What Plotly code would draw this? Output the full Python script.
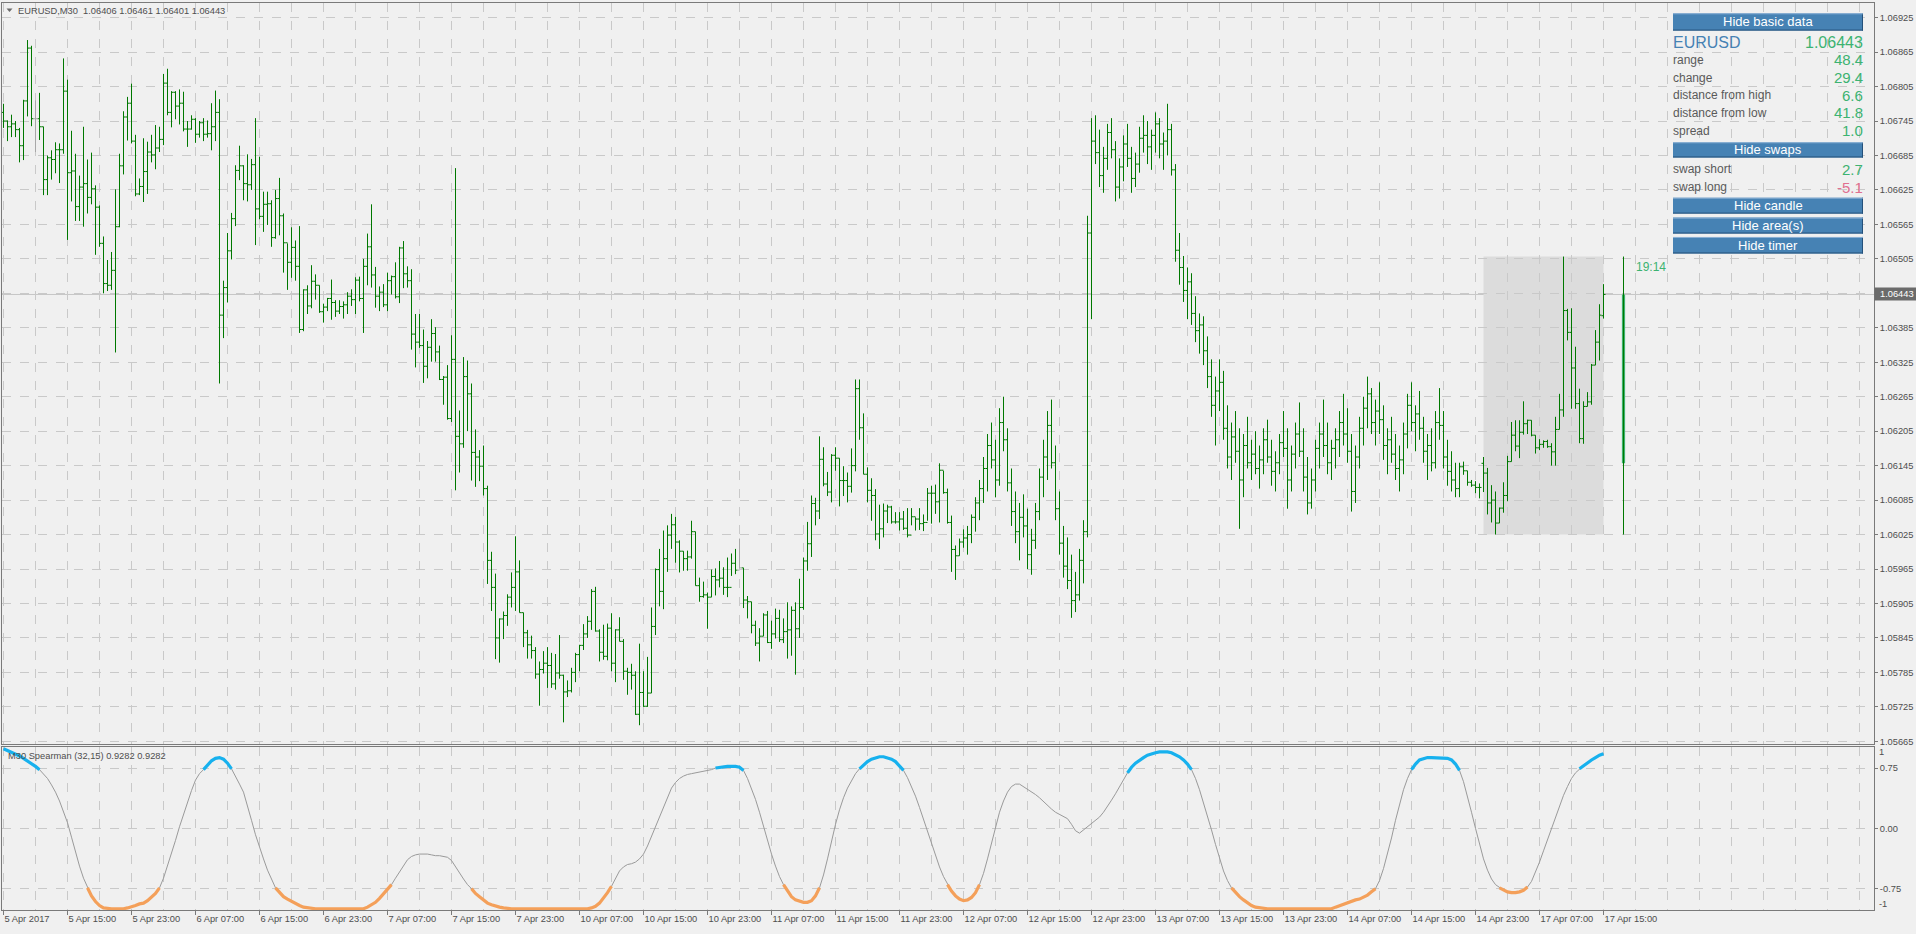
import plotly.graph_objects as go

W, H = 1916, 934
def fx(px):
    return px / W
def fy(py):
    return 1 - py / H

# ---------------- data ----------------
BASE = 1.06      # prices below are stored as pips above this base
PIP = 0.0001

tick_bars = list(range(0, 401, 16))
tick_labels = ["5 Apr 2017", "5 Apr 15:00", "5 Apr 23:00", "6 Apr 07:00", "6 Apr 15:00",
               "6 Apr 23:00", "7 Apr 07:00", "7 Apr 15:00", "7 Apr 23:00", "10 Apr 07:00",
               "10 Apr 15:00", "10 Apr 23:00", "11 Apr 07:00", "11 Apr 15:00", "11 Apr 23:00",
               "12 Apr 07:00", "12 Apr 15:00", "12 Apr 23:00", "13 Apr 07:00", "13 Apr 15:00",
               "13 Apr 23:00", "14 Apr 07:00", "14 Apr 15:00", "14 Apr 23:00", "17 Apr 07:00",
               "17 Apr 15:00"]

open_pips = [
 76.0,74.5,73.5,74.0,73.0,70.2,78.0,87.2,74.9,74.9,
 73.5,64.3,68.1,67.8,69.5,69.5,79.7,65.5,65.8,59.6,
 63.0,63.6,61.2,62.7,59.5,53.2,46.2,45.9,48.5,56.1,
 66.7,75.2,77.6,71.0,61.8,63.1,65.7,69.1,68.6,69.8,
 71.3,81.1,76.0,79.5,77.1,77.6,73.1,73.1,74.8,72.2,
 74.2,72.2,72.3,73.5,76.0,40.7,45.5,51.9,57.5,65.9,
 66.7,63.6,63.4,66.9,59.2,57.9,60.0,60.1,54.2,61.0,
 58.0,53.3,49.9,52.5,49.2,38.2,45.1,42.3,46.6,45.9,
 41.3,42.1,43.6,42.9,41.4,42.2,42.5,44.0,43.4,46.8,
 43.6,49.2,52.6,47.7,44.0,44.7,42.5,46.7,47.4,43.9,
 52.4,47.9,46.7,37.4,36.0,35.4,31.8,35.1,37.5,34.3,
 29.5,29.9,22.7,33.0,19.6,18.3,30.0,27.0,16.8,16.0,
 14.4,10.5,-2.0,-6.7,-15.5,-12.2,-11.6,-8.4,-6.7,-4.0,
 -11.1,-14.6,-16.7,-17.7,-21.8,-21.0,-19.9,-20.3,-23.5,-21.6,
 -22.0,-24.9,-24.7,-21.5,-18.4,-16.8,-14.8,-12.6,-7.4,-14.3,
 -18.0,-18.7,-13.8,-19.9,-14.1,-16.1,-21.3,-21.5,-22.0,-28.8,
 -25.0,-27.4,-25.1,-13.5,-3.6,-7.4,-1.7,2.4,4.2,1.2,
 -0.4,-1.7,-1.4,3.0,-6.4,-8.3,-8.0,-8.4,-4.8,-5.4,
 -5.1,-6.7,-6.7,-2.5,-3.7,-3.3,-8.9,-9.2,-13.3,-16.4,
 -15.2,-11.5,-16.3,-14.8,-12.1,-15.8,-14.4,-14.1,-10.7,-13.9,
 -10.2,-2.1,0.9,7.9,6.6,15.6,11.3,9.9,16.3,15.8,
 11.9,11.9,10.9,14.5,27.9,21.1,13.0,10.2,9.3,2.6,
 3.5,6.6,7.3,4.7,4.7,5.2,3.6,2.4,5.6,5.2,
 4.4,4.6,9.7,9.7,8.2,13.7,9.8,4.6,-0.1,-1.2,
 1.2,1.9,2.5,5.5,8.0,10.5,14.0,18.0,15.5,12.0,
 22.0,19.0,11.5,6.5,3.0,5.5,4.0,-1.0,1.5,6.5,
 12.5,16.0,21.5,15.0,7.0,1.0,-3.0,-5.5,-9.0,-8.0,
 -2.0,3.0,55.0,71.0,69.0,65.0,68.0,72.5,69.5,63.0,
 66.5,70.5,68.0,64.5,67.0,71.5,72.0,70.0,72.0,74.0,
 70.5,71.0,73.0,66.0,52.0,49.0,45.0,46.5,41.0,38.0,
 39.0,34.5,30.0,25.0,27.5,29.0,21.0,16.0,19.5,17.0,
 12.0,18.0,15.0,16.5,14.0,15.5,19.0,16.0,13.5,15.0,
 18.5,17.5,12.0,16.5,20.0,17.0,12.5,8.0,12.0,17.5,
 20.0,18.0,15.0,17.5,19.0,22.0,20.0,17.0,10.0,16.0,
 21.0,24.5,27.0,22.0,24.0,22.5,18.0,19.0,16.5,14.0,
 15.5,20.0,25.0,22.0,23.5,21.0,17.0,18.0,15.0,22.0,
 21.5,16.0,13.5,12.0,10.5,14.3,13.6,11.6,11.1,10.7,
 14.9,13.2,8.0,8.5,4.5,7.1,9.3,15.2,19.8,17.9,
 20.3,21.8,22.4,19.8,17.6,18.2,18.7,17.8,16.9,20.8,
 24.2,41.5,37.7,31.5,25.3,19.2,24.8,25.6,32.0,36.0,
 40.6]

high_pips = [
 77.5,74.6,75.6,74.5,73.3,78.2,88.6,87.6,78.1,79.4,
 73.5,68.5,69.4,70.8,70.6,85.4,81.7,72.8,68.8,65.0,
 73.5,67.8,69.0,63.3,59.8,54.4,50.3,51.7,62.6,68.8,
 76.2,78.7,81.0,72.1,64.5,71.5,70.9,72.1,73.8,73.5,
 82.7,83.6,79.7,79.7,80.0,79.6,74.5,75.5,75.0,74.5,
 75.0,74.6,77.6,79.8,78.3,46.7,55.0,58.5,66.8,70.2,
 66.8,68.7,67.9,75.0,68.3,62.2,62.2,60.7,62.5,64.6,
 58.4,53.2,56.0,53.7,56.2,45.2,45.9,49.4,47.8,45.9,
 42.7,43.7,46.9,43.3,43.3,43.1,44.7,45.2,47.3,47.4,
 50.5,54.9,60.0,49.1,45.7,46.1,48.1,47.6,49.9,52.6,
 53.6,49.2,48.7,40.9,40.9,38.2,36.2,40.0,38.6,35.4,
 30.1,32.0,37.2,66.3,24.1,33.4,32.8,28.8,20.8,17.2,
 18.0,11.0,-0.5,-4.3,-12.1,-10.9,-7.9,-4.1,2.2,-2.0,
 -11.1,-14.1,-15.1,-17.1,-19.6,-17.8,-17.1,-18.1,-18.3,-15.0,
 -21.9,-22.9,-20.7,-18.1,-16.7,-13.1,-11.7,-7.0,-6.6,-14.0,
 -13.2,-13.0,-11.2,-14.0,-11.9,-15.7,-20.7,-20.0,-21.3,-16.5,
 -21.3,-18.8,-10.2,-3.4,0.0,3.2,4.1,6.1,5.6,1.5,
 -0.4,-0.3,4.9,3.0,-5.0,-5.7,-7.6,-3.6,-3.4,-2.1,
 -3.2,-1.5,-0.8,0.0,1.8,-3.3,-8.2,-9.2,-12.5,-13.8,
 -11.2,-10.8,-12.5,-10.4,-10.6,-12.1,-9.3,-10.0,-9.3,-5.2,
 -1.5,4.7,9.3,8.9,19.6,17.7,13.4,16.5,17.7,15.8,
 14.4,13.3,17.5,29.5,29.5,23.6,14.2,12.3,10.4,7.7,
 7.9,7.7,7.5,6.4,6.4,6.6,7.1,7.1,5.5,7.1,
 6.0,10.6,11.0,11.2,14.9,13.6,10.5,5.8,0.6,1.8,
 3.4,4.0,6.0,9.0,12.0,16.0,20.0,22.0,19.0,24.5,
 26.5,21.0,14.0,10.0,8.0,9.5,7.0,3.5,8.0,14.0,
 19.0,24.0,26.0,18.0,10.0,4.0,2.0,-1.0,-4.0,0.0,
 5.0,58.0,75.0,75.5,73.0,70.0,74.0,75.0,71.0,68.0,
 72.0,74.0,70.0,69.0,73.5,75.5,74.5,73.0,76.0,75.0,
 72.5,77.5,74.0,67.0,55.0,51.0,49.0,48.0,44.0,41.0,
 40.5,37.0,33.0,30.0,33.0,31.0,25.0,22.0,24.0,21.0,
 20.0,23.0,19.0,20.5,18.0,21.0,22.5,19.0,17.0,20.0,
 24.0,21.0,18.0,22.0,25.5,21.0,16.0,14.0,19.0,22.0,
 26.0,22.0,19.0,21.0,24.0,27.0,24.5,20.0,18.0,23.0,
 26.5,30.0,28.0,26.0,29.0,25.0,21.0,23.0,20.0,18.0,
 22.0,27.0,29.0,25.0,27.5,23.0,20.0,21.0,24.0,28.0,
 24.0,19.0,17.0,15.0,15.0,15.2,13.6,12.0,11.8,11.4,
 16.0,14.1,11.1,10.0,7.2,11.6,16.2,22.1,22.4,22.4,
 25.7,22.5,22.4,19.8,19.1,18.9,19.0,18.4,23.0,27.0,
 50.9,41.8,41.9,35.2,27.9,25.7,27.3,32.2,38.1,42.6,
 46.1]

low_pips = [
 73.3,71.0,71.7,71.7,67.3,67.7,75.3,73.6,69.1,71.2,
 61.6,61.6,64.3,65.4,63.7,68.8,53.8,60.5,57.1,57.1,
 56.1,58.4,60.0,51.2,52.6,44.5,44.9,45.1,34.2,56.0,
 65.2,71.1,70.6,61.4,61.6,60.4,61.8,67.3,66.1,69.1,
 70.3,75.5,73.4,74.8,73.9,72.7,70.0,73.0,70.7,71.6,
 71.0,71.6,69.4,71.0,28.8,36.7,42.9,50.4,56.2,64.2,
 60.7,60.5,62.5,52.9,57.4,55.2,56.4,52.6,54.0,54.6,
 48.1,45.1,47.2,46.7,37.6,37.9,40.9,41.9,43.4,41.1,
 39.4,41.4,39.9,40.4,40.9,40.1,40.9,42.3,40.9,43.1,
 37.6,45.9,45.5,42.0,41.4,42.1,41.4,44.3,43.6,42.8,
 45.4,45.5,34.7,31.6,35.0,28.9,29.7,32.6,32.6,29.4,
 25.1,22.5,22.1,10.2,13.3,17.6,20.5,11.9,10.8,11.8,
 9.3,-6.1,-10.8,-19.2,-19.8,-15.7,-13.4,-10.2,-10.8,-11.1,
 -17.1,-19.1,-19.1,-22.6,-27.3,-21.7,-24.2,-24.2,-24.5,-22.6,
 -30.2,-25.8,-25.0,-23.2,-21.3,-17.6,-15.5,-14.1,-14.4,-19.6,
 -19.3,-19.4,-21.3,-23.2,-16.1,-22.8,-25.4,-24.5,-28.9,-30.7,
 -27.5,-27.5,-25.1,-15.0,-10.0,-10.5,-4.0,0.0,-2.4,-4.1,
 -3.8,-3.8,-1.7,-6.4,-9.2,-8.5,-13.9,-8.4,-8.1,-6.7,
 -8.0,-8.4,-4.7,-4.4,-3.4,-10.3,-12.1,-14.7,-16.9,-19.6,
 -15.2,-16.4,-17.4,-15.6,-16.2,-16.4,-19.1,-18.6,-21.9,-15.5,
 -10.6,-3.8,-1.4,4.1,5.2,10.9,9.2,8.1,13.6,7.4,
 9.2,8.1,9.8,13.5,19.0,13.0,8.1,4.9,1.5,0.0,
 2.0,4.5,4.4,4.4,3.2,3.3,2.0,4.1,3.2,3.3,
 3.1,4.9,4.4,6.1,4.6,9.6,4.4,-4.0,-5.4,-1.2,
 0.2,-1.0,1.0,3.0,5.0,8.0,10.0,14.0,9.0,11.0,
 17.0,10.0,4.0,1.0,-2.0,2.0,-3.5,-4.5,0.0,5.0,
 9.0,12.0,14.0,5.0,-1.0,-5.0,-7.0,-12.0,-11.0,-9.0,
 -6.0,2.0,40.0,67.0,63.0,62.0,66.0,68.0,60.5,61.0,
 64.0,66.5,62.0,63.0,65.5,69.0,67.0,66.0,69.0,68.0,
 66.0,68.5,65.0,50.0,46.0,43.0,40.0,39.0,36.0,34.0,
 32.0,28.0,23.0,18.0,24.0,19.0,14.0,12.0,15.0,3.5,
 9.0,14.0,12.0,13.0,10.5,13.0,15.0,11.0,10.0,13.0,
 16.0,7.0,10.0,14.0,16.0,10.0,6.0,7.0,10.0,14.0,
 16.0,13.0,12.0,14.0,16.0,18.0,15.0,6.5,8.0,14.0,
 18.0,21.0,20.0,18.0,20.0,15.5,13.0,15.0,12.0,10.0,
 13.0,17.5,20.5,17.0,19.0,15.0,12.0,13.5,14.0,19.0,
 14.0,11.0,10.0,9.0,9.0,12.9,11.0,10.8,9.7,8.8,
 9.9,6.0,4.6,2.5,4.5,6.3,8.3,15.2,17.0,15.8,
 19.9,20.0,19.6,16.6,17.2,17.6,17.6,14.5,14.5,20.8,
 23.0,36.3,24.4,24.4,18.4,18.3,24.8,25.1,32.0,32.8,
 40.1]

close_pips = [
 74.5,73.5,74.0,73.0,70.2,78.0,87.2,74.9,74.9,73.5,
 64.3,68.1,67.8,69.5,69.5,79.7,65.5,65.8,59.6,63.0,
 63.6,61.2,62.7,59.5,53.2,46.2,45.9,48.5,56.1,66.7,
 75.2,77.6,71.0,61.8,63.1,65.7,69.1,68.6,69.8,71.3,
 81.1,76.0,79.5,77.1,77.6,73.1,73.1,74.8,72.2,74.2,
 72.2,72.3,73.5,76.0,40.7,45.5,51.9,57.5,65.9,66.7,
 63.6,63.4,66.9,59.2,57.9,60.0,60.1,54.2,61.0,58.0,
 53.3,49.9,52.5,49.2,38.2,45.1,42.3,46.6,45.9,41.3,
 42.1,43.6,42.9,41.4,42.2,42.5,44.0,43.4,46.8,43.6,
 49.2,52.6,47.7,44.0,44.7,42.5,46.7,47.4,43.9,52.4,
 47.9,46.7,37.4,36.0,35.4,31.8,35.1,37.5,34.3,29.5,
 29.9,22.7,33.0,19.6,18.3,30.0,27.0,16.8,16.0,14.4,
 10.5,-2.0,-6.7,-15.5,-12.2,-11.6,-8.4,-6.7,-4.0,-11.1,
 -14.6,-16.7,-17.7,-21.8,-21.0,-19.9,-20.3,-23.5,-21.6,-22.0,
 -24.9,-24.7,-21.5,-18.4,-16.8,-14.8,-12.6,-7.4,-14.3,-18.0,
 -18.7,-13.8,-19.9,-14.1,-16.1,-21.3,-21.5,-22.0,-28.8,-25.0,
 -27.4,-25.1,-13.5,-3.6,-7.4,-1.7,2.4,4.2,1.2,-0.4,
 -1.7,-1.4,3.0,-6.4,-8.3,-8.0,-8.4,-4.8,-5.4,-5.1,
 -6.7,-6.7,-2.5,-3.7,-3.3,-8.9,-9.2,-13.3,-16.4,-15.2,
 -11.5,-16.3,-14.8,-12.1,-15.8,-14.4,-14.1,-10.7,-13.9,-10.2,
 -2.1,0.9,7.9,6.6,15.6,11.3,9.9,16.3,15.8,11.9,
 11.9,10.9,14.5,27.9,21.1,13.0,10.2,9.3,2.6,3.5,
 6.6,7.3,4.7,4.7,5.2,3.6,2.4,5.6,5.2,4.4,
 4.6,9.7,9.7,8.2,13.7,9.8,4.6,-0.1,-1.2,1.2,
 1.9,2.5,5.5,8.0,10.5,14.0,18.0,15.5,12.0,22.0,
 19.0,11.5,6.5,3.0,5.5,4.0,-1.0,1.5,6.5,12.5,
 16.0,21.5,15.0,7.0,1.0,-3.0,-5.5,-9.0,-8.0,-2.0,
 3.0,55.0,71.0,69.0,65.0,68.0,72.5,69.5,63.0,66.5,
 70.5,68.0,64.5,67.0,71.5,72.0,70.0,72.0,74.0,70.5,
 71.0,73.0,66.0,52.0,49.0,45.0,46.5,41.0,38.0,39.0,
 34.5,30.0,25.0,27.5,29.0,21.0,16.0,19.5,17.0,12.0,
 18.0,15.0,16.5,14.0,15.5,19.0,16.0,13.5,15.0,18.5,
 17.5,12.0,16.5,20.0,17.0,12.5,8.0,12.0,17.5,20.0,
 18.0,15.0,17.5,19.0,22.0,20.0,17.0,10.0,16.0,21.0,
 24.5,27.0,22.0,24.0,22.5,18.0,19.0,16.5,14.0,15.5,
 20.0,25.0,22.0,23.5,21.0,17.0,18.0,15.0,22.0,21.5,
 16.0,13.5,12.0,10.5,14.3,13.6,11.6,11.1,10.7,10.7,
 13.2,8.0,8.5,4.5,7.1,9.3,15.2,19.8,17.9,20.3,
 21.8,22.4,19.8,17.6,18.2,18.7,17.8,16.9,20.8,24.2,
 41.5,37.7,31.5,25.3,19.2,24.8,25.6,32.0,36.0,40.7,
 44.3]

gray_bars = [8, 184]   # bars drawn grey in the reference (unchanged bars)

spearman = [
 0.99,0.97,0.95,0.93,0.90,0.87,0.84,0.81,0.77,0.73,
 0.68,0.62,0.54,0.45,0.34,0.21,0.07,-0.11,-0.30,-0.47,
 -0.62,-0.74,-0.84,-0.91,-0.96,-0.99,-1.0,-1.0,-1.0,-1.0,
 -1.0,-0.99,-0.98,-0.96,-0.94,-0.93,-0.90,-0.86,-0.81,-0.74,
 -0.62,-0.47,-0.31,-0.15,0.02,0.18,0.33,0.47,0.60,0.68,
 0.73,0.79,0.84,0.87,0.88,0.86,0.81,0.74,0.65,0.55,
 0.45,0.29,0.10,-0.08,-0.24,-0.38,-0.52,-0.64,-0.74,-0.80,
 -0.85,-0.88,-0.91,-0.94,-0.96,-0.98,-0.99,-1.0,-1.0,-1.0,
 -1.0,-1.0,-1.0,-1.0,-1.0,-1.0,-1.0,-1.0,-1.0,-1.0,
 -1.0,-0.98,-0.95,-0.92,-0.87,-0.81,-0.76,-0.70,-0.62,-0.54,
 -0.46,-0.39,-0.35,-0.33,-0.32,-0.32,-0.32,-0.33,-0.34,-0.34,
 -0.35,-0.36,-0.40,-0.48,-0.56,-0.63,-0.70,-0.75,-0.81,-0.85,
 -0.89,-0.93,-0.95,-0.97,-0.98,-0.99,-1.0,-1.0,-1.0,-1.0,
 -1.0,-1.0,-1.0,-1.0,-1.0,-1.0,-1.0,-1.0,-1.0,-1.0,
 -1.0,-1.0,-1.0,-1.0,-1.0,-1.0,-1.0,-0.99,-0.97,-0.93,
 -0.87,-0.80,-0.72,-0.62,-0.53,-0.48,-0.45,-0.44,-0.42,-0.38,
 -0.32,-0.22,-0.10,0.04,0.16,0.28,0.40,0.50,0.57,0.62,
 0.65,0.67,0.68,0.69,0.70,0.71,0.72,0.73,0.75,0.76,
 0.77,0.77,0.77,0.77,0.76,0.72,0.62,0.50,0.36,0.20,
 0.02,-0.15,-0.32,-0.47,-0.60,-0.70,-0.78,-0.85,-0.89,-0.91,
 -0.92,-0.92,-0.90,-0.84,-0.74,-0.58,-0.38,-0.16,0.05,0.23,
 0.38,0.50,0.60,0.68,0.74,0.79,0.83,0.86,0.88,0.89,
 0.89,0.88,0.86,0.83,0.78,0.72,0.63,0.52,0.40,0.26,
 0.11,-0.04,-0.19,-0.34,-0.48,-0.60,-0.70,-0.78,-0.84,-0.88,
 -0.90,-0.89,-0.86,-0.80,-0.70,-0.56,-0.38,-0.18,0.02,0.20,
 0.34,0.45,0.52,0.55,0.55,0.52,0.48,0.45,0.42,0.38,
 0.33,0.28,0.24,0.20,0.17,0.15,0.12,0.05,-0.03,-0.06,
 -0.02,0.02,0.06,0.10,0.14,0.20,0.27,0.35,0.43,0.52,
 0.61,0.69,0.76,0.81,0.85,0.88,0.91,0.93,0.94,0.95,
 0.95,0.95,0.94,0.92,0.89,0.85,0.80,0.73,0.62,0.48,
 0.32,0.15,-0.02,-0.20,-0.38,-0.53,-0.65,-0.74,-0.80,-0.85,
 -0.89,-0.93,-0.96,-0.98,-0.99,-1.0,-1.0,-1.0,-1.0,-1.0,
 -1.0,-1.0,-1.0,-1.0,-1.0,-1.0,-1.0,-1.0,-1.0,-1.0,
 -1.0,-1.0,-1.0,-0.98,-0.96,-0.94,-0.92,-0.90,-0.89,-0.88,
 -0.86,-0.83,-0.79,-0.75,-0.65,-0.50,-0.32,-0.12,0.10,0.30,
 0.48,0.62,0.73,0.80,0.85,0.87,0.88,0.88,0.88,0.88,
 0.88,0.87,0.85,0.80,0.72,0.58,0.40,0.20,0.00,-0.20,
 -0.38,-0.52,-0.63,-0.70,-0.74,-0.77,-0.79,-0.80,-0.80,-0.79,
 -0.77,-0.73,-0.66,-0.55,-0.42,-0.28,-0.14,0.00,0.14,0.28,
 0.41,0.52,0.62,0.69,0.74,0.78,0.82,0.85,0.88,0.91,
 0.9282]

header_ohlc = [1.06406, 1.06461, 1.06401, 1.06443]
current_bar = 400
day_start_bar = 370
day_candle_bar = 405
day_open, day_high, day_low, day_close = 1.06149, 1.06509, 1.06025, 1.06443
level_hi, level_lo = 0.75, -0.75

panel_rows = [("range", "48.4"), ("change", "29.4"), ("distance from high", "6.6"),
              ("distance from low", "41.8"), ("spread", "1.0")]
swap_rows = [("swap short", "2.7"), ("swap long", "-5.1")]
timer_text = "19:14"

# ---------------- style ----------------
BG = "#f0f0f0"
GRID = "#c9c9c9"
AXIS = "#7a7a7a"
TXT = "#4e4e4e"
BAR_GREEN = "#007800"
BAR_GRAY = "#a8a8a8"
VAL_GREEN = "#3cb371"
BTN = "#4682b4"
FONT = "Liberation Sans, Arial, sans-serif"
FS = 9.3

def price(seq):
    return [round(BASE + v * PIP, 5) for v in seq]

o, h, l, c = price(open_pips), price(high_pips), price(low_pips), price(close_pips)
bars = list(range(len(c)))

fig = go.Figure()
for color, keep in ((BAR_GREEN, lambda i: i not in gray_bars), (BAR_GRAY, lambda i: i in gray_bars)):
    idx = [i for i in bars if keep(i)]
    fig.add_trace(go.Ohlc(x=idx, open=[o[i] for i in idx], high=[h[i] for i in idx],
                          low=[l[i] for i in idx], close=[c[i] for i in idx],
                          xaxis="x", yaxis="y",
                          increasing=dict(line=dict(color=color, width=1)),
                          decreasing=dict(line=dict(color=color, width=1)),
                          tickwidth=0.5, hoverinfo="skip", showlegend=False))

# daily candle to the right of the last bar
fig.add_trace(go.Scatter(x=[day_candle_bar, day_candle_bar], y=[day_low, day_high], mode="lines",
                         line=dict(color=BAR_GREEN, width=1), xaxis="x", yaxis="y",
                         hoverinfo="skip", showlegend=False))
fig.add_trace(go.Bar(x=[day_candle_bar], y=[day_close - day_open], base=[day_open], width=0.8,
                     marker=dict(color=VAL_GREEN, line=dict(width=0)), xaxis="x", yaxis="y",
                     hoverinfo="skip", showlegend=False))

# indicator
n = len(spearman)
ix = list(range(n))
def seg(cond):
    out = []
    for i, v in enumerate(spearman):
        near = cond(v) or (i > 0 and cond(spearman[i - 1])) or (i + 1 < n and cond(spearman[i + 1]))
        out.append(v if near else None)
    return out
blue = seg(lambda v: v > level_hi)
orange = seg(lambda v: v < level_lo)
fig.add_trace(go.Scatter(x=ix, y=spearman, mode="lines", line=dict(color="#9a9a9a", width=1),
                         xaxis="x2", yaxis="y2", hoverinfo="skip", showlegend=False))
fig.add_trace(go.Scatter(x=ix, y=blue, mode="lines", line=dict(color="#17b1ee", width=3.2),
                         connectgaps=False, xaxis="x2", yaxis="y2", hoverinfo="skip", showlegend=False))
fig.add_trace(go.Scatter(x=ix, y=orange, mode="lines", line=dict(color="#f4a05a", width=3.2),
                         connectgaps=False, xaxis="x2", yaxis="y2", hoverinfo="skip", showlegend=False))

# plot area spans pixels 2..1874 (1872 px); 4 px per bar, bar centres on pixel centres
xrange = [-0.375, -0.375 + 1872 / 4]
xdom = [fx(2), fx(1874)]
grid_common = dict(showgrid=True, gridcolor=GRID, griddash="dash", gridwidth=1)
minor = dict(tickmode="linear", tick0=0, dtick=8, showgrid=True, gridcolor=GRID,
             griddash="dash", gridwidth=1, ticks="")
tickfont = dict(family=FONT, size=FS, color=TXT)

fig.update_layout(
    width=W, height=H, margin=dict(l=0, r=0, t=0, b=0),
    paper_bgcolor=BG, plot_bgcolor=BG, showlegend=False, hovermode=False,
    font=dict(family=FONT, size=FS, color=TXT),
    xaxis=dict(domain=xdom, range=xrange, anchor="y", showline=True, mirror=True,
               linecolor=AXIS, linewidth=1, tickmode="array", tickvals=tick_bars,
               showticklabels=False, ticks="", zeroline=False, minor=minor,
               rangeslider=dict(visible=False), **grid_common),
    xaxis2=dict(domain=xdom, range=xrange, anchor="y2", matches="x", showline=True, mirror=True,
                linecolor=AXIS, linewidth=1, tickmode="array", tickvals=tick_bars,
                ticktext=tick_labels, ticks="outside", ticklen=4, tickcolor=AXIS,
                ticklabelposition="outside right", tickfont=tickfont, zeroline=False,
                minor=minor, rangeslider=dict(visible=False), **grid_common),
    yaxis=dict(domain=[fy(746), fy(3)], range=[1.05661, 1.069505], anchor="x", side="right",
               tickmode="linear", tick0=1.05665, dtick=0.0006, tickformat=".5f",
               ticks="outside", ticklen=3, tickcolor=AXIS, showline=True, mirror=True,
               linecolor=AXIS, zeroline=False, tickfont=tickfont, **grid_common),
    yaxis2=dict(domain=[fy(913), fy(749)], range=[-1.0165, 1.0165], anchor="x2", side="right",
                tickmode="array", tickvals=[0.75, 0, -0.75], ticktext=["0.75", "0.00", "-0.75"],
                ticks="outside", ticklen=3, tickcolor=AXIS, showline=True, mirror=True,
                linecolor=AXIS, zeroline=False, tickfont=tickfont, **grid_common),
)

shapes = []
ann = []
# today's range area and current price line
shapes.append(dict(type="rect", xref="x", yref="y", x0=day_start_bar, x1=current_bar,
                   y0=day_low, y1=day_high, fillcolor="#dcdcdc", line=dict(width=0), layer="below"))
shapes.append(dict(type="line", xref="x domain", yref="y", x0=0, x1=1, y0=header_ohlc[3],
                   y1=header_ohlc[3], line=dict(color="#c6c6c6", width=1), layer="below"))

def button(y0, y1, label):
    shapes.append(dict(type="rect", xref="paper", yref="paper", x0=fx(1673), x1=fx(1863),
                       y0=fy(y1), y1=fy(y0), fillcolor=BTN, line=dict(width=0), layer="above"))
    shapes.append(dict(type="line", xref="paper", yref="paper", x0=fx(1673), x1=fx(1863),
                       y0=fy(y1 - 0.5), y1=fy(y1 - 0.5), line=dict(color="#24507a", width=1)))
    shapes.append(dict(type="line", xref="paper", yref="paper", x0=fx(1862.5), x1=fx(1862.5),
                       y0=fy(y1), y1=fy(y0), line=dict(color="#24507a", width=1)))
    shapes.append(dict(type="line", xref="paper", yref="paper", x0=fx(1673), x1=fx(1863),
                       y0=fy(y0 + 0.5), y1=fy(y0 + 0.5), line=dict(color="#8fb3d6", width=1)))
    ann.append(dict(xref="paper", yref="paper", x=fx(1768), y=fy((y0 + y1) / 2), text=label,
                    showarrow=False, xanchor="center", yanchor="middle",
                    font=dict(family=FONT, size=13, color="white")))

button(13.3, 30.7, "Hide basic data")
button(142.7, 158.0, "Hide swaps")
button(198.3, 214.3, "Hide candle")
button(218.3, 234.3, "Hide area(s)")
button(237.7, 254.3, "Hide timer")

def left_text(x, y, text, size, color):
    ann.append(dict(xref="paper", yref="paper", x=fx(x), y=fy(y), text=text, showarrow=False,
                    xanchor="left", yanchor="middle", font=dict(family=FONT, size=size, color=color)))
def right_text(x, y, text, size, color):
    ann.append(dict(xref="paper", yref="paper", x=fx(x), y=fy(y), text=text, showarrow=False,
                    xanchor="right", yanchor="middle", font=dict(family=FONT, size=size, color=color)))

left_text(1671, 42.3, "EURUSD", 16, BTN)
right_text(1865, 42.3, f"{header_ohlc[3]:.5f}", 16, VAL_GREEN)
for i, (lab, val) in enumerate(panel_rows):
    yy = 60 + i * 17.75
    left_text(1671, yy, lab, 12, "#5a5a5a")
    right_text(1865, yy, val, 15, VAL_GREEN)
for i, (lab, val) in enumerate(swap_rows):
    yy = 170 + i * 17.7
    left_text(1671, yy, lab, 12, "#5a5a5a")
    right_text(1865, yy, val, 15, VAL_GREEN if not val.startswith("-") else "#e07090")

left_text(1634, 268, timer_text, 12, VAL_GREEN)

# header texts
left_text(16, 10.7, "EURUSD,M30  " + " ".join(f"{v:.5f}" for v in header_ohlc), FS, TXT)
shapes.append(dict(type="path", xref="paper", yref="paper",
                   path=f"M {fx(6.5)},{fy(8.5)} L {fx(12.5)},{fy(8.5)} L {fx(9.5)},{fy(12)} Z",
                   fillcolor="#6a6a6a", line=dict(width=0)))
left_text(6, 758.7, f"M30 Spearman (32,15) {spearman[-1]:.4f} {spearman[-1]:.4f}", FS, TXT)

# price tag on right axis
shapes.append(dict(type="rect", xref="paper", yref="paper", x0=fx(1874.5), x1=fx(1916),
                   y0=fy(301.5), y1=fy(288.5), fillcolor="#6b6b6b", line=dict(width=0)))
left_text(1878, 295, f"{header_ohlc[3]:.5f}", FS, "#ffffff")

# clamped +/-1 labels of indicator scale
left_text(1877, 754.5, "1", FS, TXT)
left_text(1877, 907, "-1", FS, TXT)

fig.update_layout(shapes=shapes, annotations=ann)
fig.write_html("out.html", config={"displayModeBar": False},
               post_script="document.body.style.margin='0px';document.body.style.overflow='hidden';")
